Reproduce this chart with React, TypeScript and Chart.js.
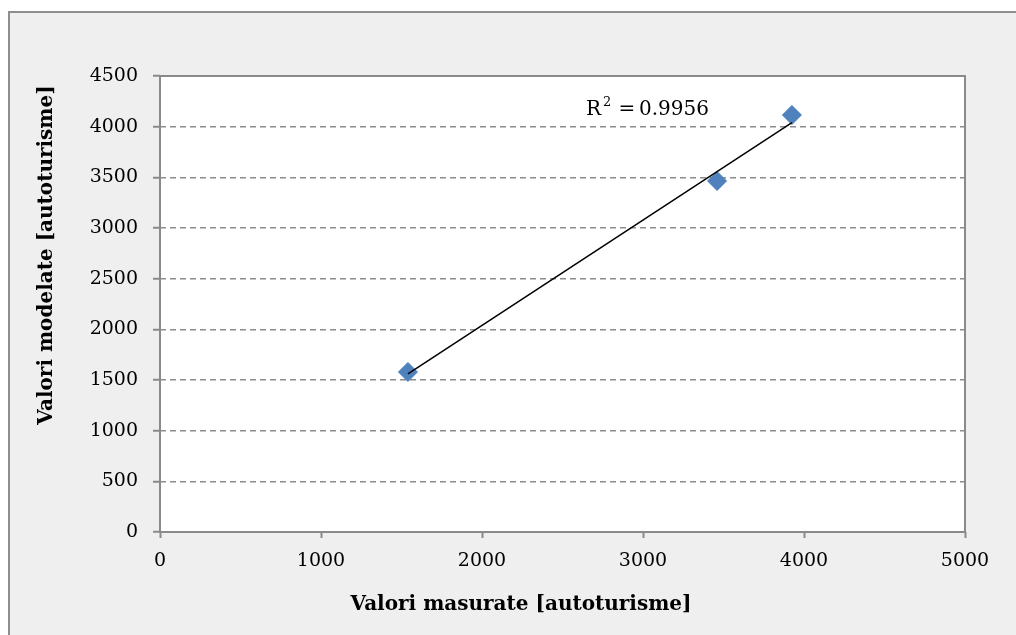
import React, { useEffect, useRef } from "react";
import { Chart, registerables } from "chart.js";

Chart.register(...registerables);

const measuredValues = [1540, 3460, 3925];
const modelledValues = [1579, 3464, 4115];
const xTitle = "Valori masurate [autoturisme]";
const yTitle = "Valori modelate [autoturisme]";
const r2Label = "0.9956";

function regression(xs: number[], ys: number[]) {
  const n = xs.length;
  const mx = xs.reduce((a, b) => a + b, 0) / n;
  const my = ys.reduce((a, b) => a + b, 0) / n;
  let sxy = 0, sxx = 0;
  for (let i = 0; i < n; i++) {
    sxy += (xs[i] - mx) * (ys[i] - my);
    sxx += (xs[i] - mx) ** 2;
  }
  const slope = sxy / sxx;
  return { slope, intercept: my - slope * mx };
}

const FONT = "'DejaVu Serif', serif";

const framePlugin = {
  id: "frame",
  beforeDraw(chart: any) {
    const { ctx, width, height, chartArea } = chart;
    ctx.save();
    ctx.fillStyle = "#ffffff";
    ctx.fillRect(0, 0, width, height);
    ctx.fillStyle = "#efefef";
    ctx.fillRect(9, 12, width, height);
    ctx.strokeStyle = "#8e8e8e";
    ctx.lineWidth = 2;
    ctx.strokeRect(9, 12, width + 10, height + 10);
    ctx.fillStyle = "#ffffff";
    ctx.fillRect(chartArea.left, chartArea.top, chartArea.right - chartArea.left, chartArea.bottom - chartArea.top);
    ctx.restore();
  },
  afterDatasetsDraw(chart: any) {
    const { ctx, chartArea } = chart;
    ctx.save();
    ctx.strokeStyle = "#8a8a8a";
    ctx.lineWidth = 2;
    ctx.strokeRect(chartArea.left, chartArea.top, chartArea.right - chartArea.left, chartArea.bottom - chartArea.top);
    ctx.restore();
  },
  afterDraw(chart: any) {
    const { ctx } = chart;
    ctx.save();
    ctx.fillStyle = "#000";
    ctx.font = `bold 20px ${FONT}`;
    ctx.textAlign = "center";
    ctx.textBaseline = "middle";
    ctx.fillText(xTitle, 521, 605);
    ctx.translate(47, 255);
    ctx.rotate(-Math.PI / 2);
    ctx.fillText(yTitle, 0, 0);
    ctx.restore();

    // R² label
    ctx.save();
    ctx.fillStyle = "#000";
    ctx.textBaseline = "alphabetic";
    ctx.textAlign = "left";
    const base = 115;
    ctx.font = `20px ${FONT}`;
    ctx.fillText("R", 586, base);
    ctx.font = `13px ${FONT}`;
    ctx.fillText("2", 603, base - 9);
    ctx.font = `20px ${FONT}`;
    ctx.textAlign = "center";
    ctx.fillText("=", 627, base);
    ctx.textAlign = "right";
    ctx.fillText(r2Label, 709, base);
    ctx.restore();
  },
};

export default function App() {
  const ref = useRef<HTMLCanvasElement | null>(null);
  useEffect(() => {
    if (!ref.current) return;
    const { slope, intercept } = regression(measuredValues, modelledValues);
    const xmin = Math.min(...measuredValues);
    const xmax = Math.max(...measuredValues);
    const chart = new Chart(ref.current, {
      type: "scatter",
      data: {
        datasets: [
          {
            type: "line",
            data: [
              { x: xmin, y: slope * xmin + intercept },
              { x: xmax, y: slope * xmax + intercept },
            ],
            borderColor: "#000000",
            borderWidth: 1.5,
            pointRadius: 0,
            fill: false,
          } as any,
          {
            data: measuredValues.map((x, i) => ({ x, y: modelledValues[i] })),
            pointStyle: "rectRot",
            pointRadius: 9.5,
            pointHoverRadius: 9.5,
            backgroundColor: "#4f81bd",
            borderColor: "#4a7ebb",
            borderWidth: 1,
          },
        ],
      },
      options: {
        responsive: false,
        animation: false,
        layout: { padding: { left: 0, top: 76, right: 51, bottom: 0 } },
        plugins: { legend: { display: false }, tooltip: { enabled: false } },
        scales: {
          x: {
            type: "linear",
            min: 0,
            max: 5000,
            ticks: { stepSize: 1000, color: "#000", font: { family: FONT, size: 19 }, padding: 12, callback: (v: any) => String(v) },
            grid: { drawOnChartArea: false, drawTicks: true, tickLength: 6, tickColor: "#8a8a8a", tickWidth: 2 },
            border: { display: false },
            afterFit: (s: any) => { s.height = 103; },
          },
          y: {
            type: "linear",
            min: 0,
            max: 4500,
            ticks: { stepSize: 500, color: "#000", font: { family: FONT, size: 19 }, padding: 15, callback: (v: any) => String(v) },
            grid: { color: "#8c8c8c", lineWidth: 1.5, tickLength: 7, tickColor: "#8a8a8a", tickWidth: 2, tickBorderDash: [] },
            border: { display: false, dash: [6, 4] },
            afterFit: (s: any) => { s.width = 160; },
          },
        },
      },
      plugins: [framePlugin],
    } as any);
    return () => chart.destroy();
  }, []);
  return (
    <div style={{ position: "absolute", left: 0, top: 0, width: 1016, height: 635 }}>
      <canvas ref={ref} width={1016} height={635} style={{ width: 1016, height: 635 }} />
    </div>
  );
}
